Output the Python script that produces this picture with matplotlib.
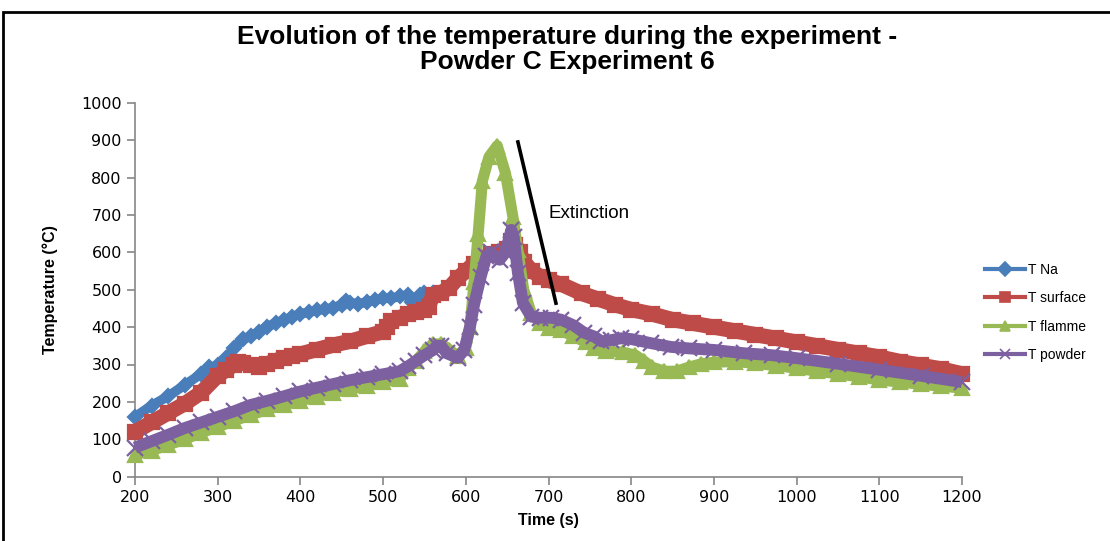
"""
Temperature evolution during experiment 6 (powder C), Excel-like line chart
"""

import matplotlib
matplotlib.use('Agg')
import matplotlib.pyplot as plt
from matplotlib.lines import Line2D
from matplotlib.patches import Rectangle

# T Na (sodium thermocouple), stops around 565 s
t_na = [200, 220, 240, 260, 280, 290, 300, 310, 320, 330, 340, 350, 360, 370, 380, 390,
        400, 410, 420, 430, 440, 450, 455, 460, 470, 480, 490, 500, 510, 520, 530, 535,
        540, 545, 550, 560, 565]
v_na = [160, 190, 215, 245, 275, 292, 298, 318, 345, 368, 375, 388, 400, 412, 418, 428,
        435, 440, 445, 448, 452, 460, 470, 465, 462, 467, 472, 478, 477, 482, 486, 468,
        470, 485, 490, 492, 488]

# T surface
t_surf = [200, 220, 240, 260, 280, 300, 310, 320, 325, 330, 340, 350, 360, 370, 380, 390,
          400, 420, 440, 460, 480, 500, 505, 510, 520, 530, 540, 550, 555, 560, 570, 580,
          590, 600, 610, 620, 630, 640, 650, 655, 660, 665, 670, 680, 690, 700, 715, 740,
          760, 780, 800, 825, 850, 875, 900, 925, 950, 975, 1000, 1025, 1050, 1075, 1100,
          1125, 1150, 1175, 1200]
v_surf = [120, 145, 170, 195, 225, 270, 285, 300, 308, 305, 298, 293, 302, 310, 318, 322,
          328, 340, 352, 362, 375, 388, 400, 415, 425, 435, 440, 445, 455, 485, 492, 505,
          530, 550, 570, 585, 595, 600, 610, 630, 620, 600, 575, 550, 535, 525, 515, 490,
          475, 460, 447, 435, 420, 410, 400, 390, 380, 370, 360, 350, 340, 330, 320,
          308, 298, 288, 275]

# T flamme
t_flam = [200, 220, 240, 260, 280, 300, 320, 340, 360, 380, 400, 420, 440, 460, 480, 500,
          520, 530, 540, 550, 560, 570, 580, 590, 600, 605, 610, 615, 620, 628, 638, 648,
          657, 663, 670, 679, 690, 700, 715, 730, 745, 755, 770, 790, 805, 815, 825, 840,
          855, 870, 885, 900, 925, 950, 975, 1000, 1025, 1050, 1075, 1100, 1125, 1150,
          1175, 1200]
v_flam = [58, 70, 85, 100, 118, 133, 150, 165, 180, 192, 203, 214, 225, 234, 243, 252,
          262, 290, 310, 335, 355, 355, 340, 322, 345, 400, 520, 650, 790, 855, 885, 811,
          694, 605, 500, 438, 410, 398, 392, 375, 360, 345, 335, 333, 325, 310, 293, 282,
          282, 293, 302, 306, 308, 303, 297, 290, 282, 275, 267, 259, 253, 247,
          242, 237]

# T powder
t_pow = [200, 220, 240, 260, 280, 300, 320, 340, 360, 380, 400, 420, 440, 460, 480, 500,
         520, 530, 540, 550, 560, 565, 570, 577, 590, 598, 605, 610, 618, 625, 630, 641,
         648, 655, 658, 663, 669, 679, 690, 703, 715, 730, 743, 755, 764, 775, 788, 800,
         824, 848, 870, 900, 937, 970, 1000, 1050, 1100, 1150, 1200]
v_pow = [78, 95, 112, 130, 145, 160, 175, 192, 203, 215, 228, 238, 248, 258, 266, 274,
         282, 295, 310, 325, 338, 350, 350, 330, 318, 338, 400, 460, 534, 590, 600, 580,
         600, 660, 640, 545, 465, 428, 425, 425, 420, 405, 385, 375, 362, 365, 370, 368,
         357, 347, 343, 339, 330, 325, 317, 302, 286, 270, 253]

# black "Extinction" marker line (start, end)
ext_t = [663, 709]
ext_v = [895, 464]

series = [
    {'t': t_na, 'v': v_na, 'label': 'T Na', 'color': '#4A7EBB', 'marker': 'D', 'ms': 7, 'lw': 7},
    {'t': t_surf, 'v': v_surf, 'label': 'T surface', 'color': '#BE4B48', 'marker': 's', 'ms': 10, 'lw': 11},
    {'t': t_flam, 'v': v_flam, 'label': 'T flamme', 'color': '#98B954', 'marker': '^', 'ms': 10, 'lw': 8},
    {'t': t_pow, 'v': v_pow, 'label': 'T powder', 'color': '#7D60A0', 'marker': 'x', 'ms': 11, 'lw': 8.5},
]

W, H = 1110, 541
fig = plt.figure(figsize=(W / 100, H / 100), dpi=100)
ax = fig.add_axes([135 / W, 1 - 476.7 / H, 827 / W, 374 / H])

for s in series:
    ax.plot(s['t'], s['v'], color=s['color'], lw=s['lw'], marker=s['marker'],
            markersize=s['ms'], markeredgewidth=1.6, solid_joinstyle='round',
            solid_capstyle='butt', clip_on=False, zorder=3)

ax.plot(ext_t, ext_v, color='black', lw=2.6, zorder=5)
ax.text(700, 705, 'Extinction', fontsize=13.5, family='Liberation Sans', va='center', ha='left')

ax.set_xlim(200, 1200)
ax.set_ylim(0, 1000)
ax.set_xticks(range(200, 1201, 100))
ax.set_yticks(range(0, 1001, 100))

# excel look: grey left / bottom axes, outward ticks
for side in ['top', 'right']:
    ax.spines[side].set_visible(False)
for side in ['left', 'bottom']:
    ax.spines[side].set_color('#868686')
    ax.spines[side].set_linewidth(1.2)
ax.tick_params(direction='out', length=6, width=1.2, color='#868686', labelsize=11.5)
for lab in ax.get_xticklabels() + ax.get_yticklabels():
    lab.set_family('DejaVu Sans')

ax.set_xlabel('Time (s)', fontsize=11.5, fontweight='bold', family='Liberation Sans', labelpad=6)
ax.set_ylabel('Temperature (°C)', fontsize=11.5, fontweight='bold', family='Liberation Sans', labelpad=17)

fig.text(567 / W, 1 - 37 / H, 'Evolution of the temperature during the experiment -',
         ha='center', va='center', fontsize=19, fontweight='bold', family='Liberation Sans')
fig.text(567 / W, 1 - 62 / H, 'Powder C Experiment 6',
         ha='center', va='center', fontsize=19, fontweight='bold', family='Liberation Sans')

# legend on the right
handles = [Line2D([0], [0], color=s['color'], lw=3, marker=s['marker'], markersize=7,
                  markeredgewidth=1.2) for s in series]
fig.legend(handles, [s['label'] for s in series], loc='upper left',
           bbox_to_anchor=(972 / W, 1 - 250 / H), frameon=False,
           handlelength=2.9, handletextpad=0.2, labelspacing=1.05,
           prop={'family': 'Liberation Sans', 'size': 10})

# black frame around the chart
fig.patches.append(Rectangle((3 / W, -0.05), 1.2, 1 - 12 / H + 0.05, transform=fig.transFigure,
                             fill=False, edgecolor='black', lw=2))

plt.savefig('out.png', dpi=100)
plt.close()
